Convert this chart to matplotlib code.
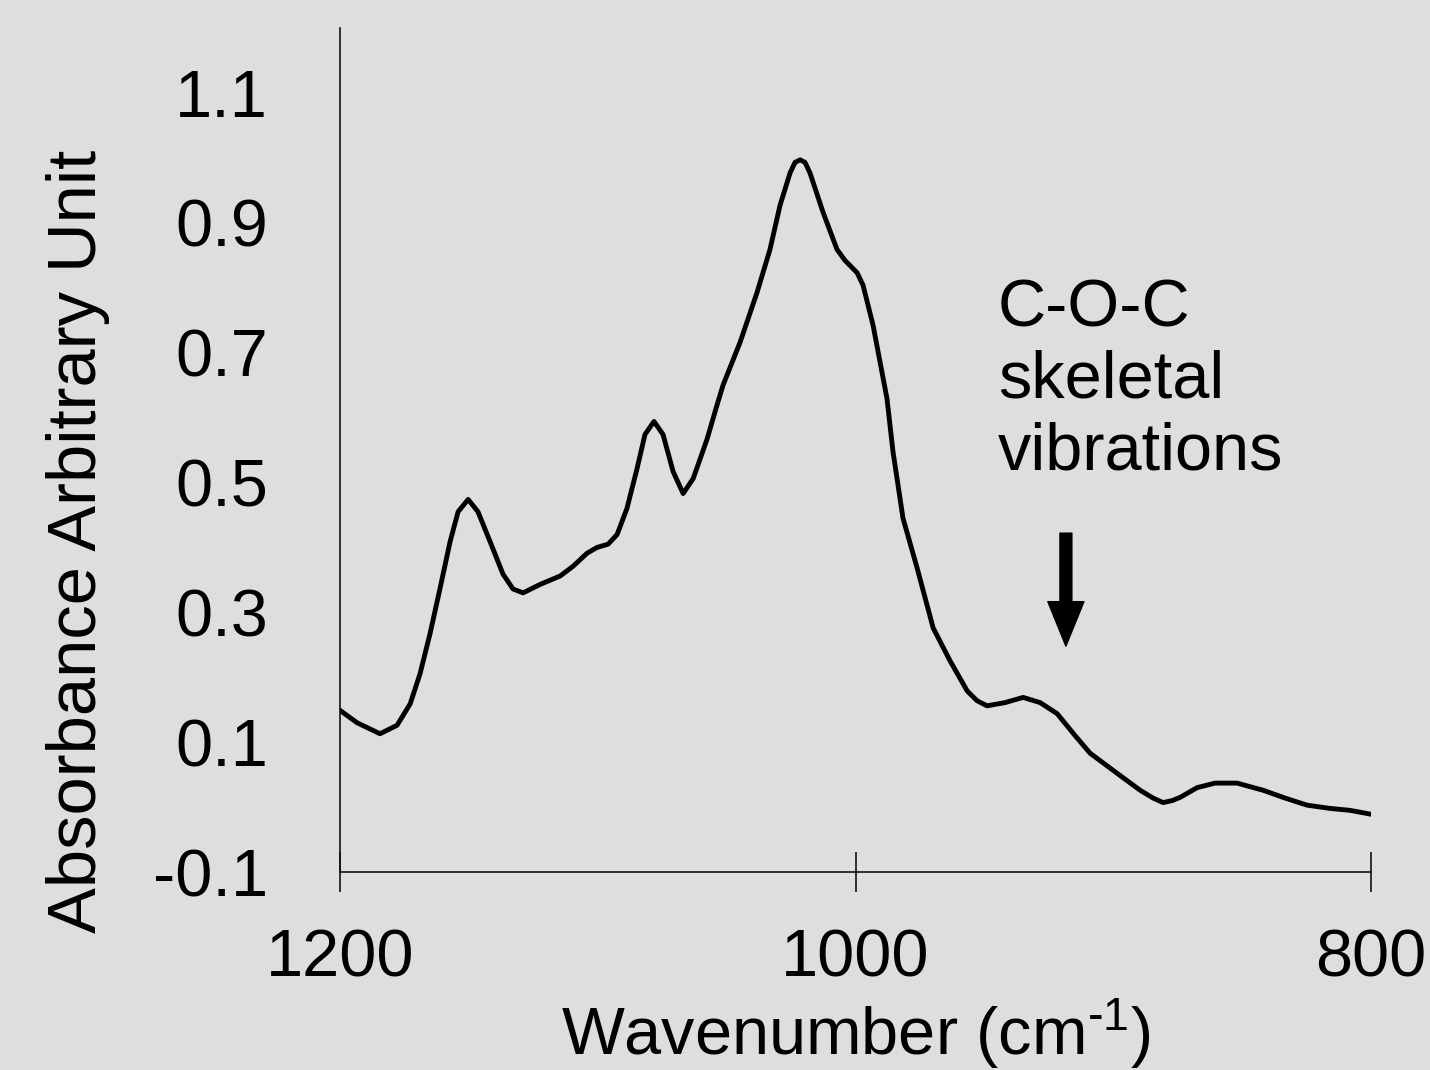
import numpy as np
import matplotlib.pyplot as plt

plt.rcParams['font.family'] = ['Liberation Sans', 'DejaVu Sans']
plt.rcParams['mathtext.fontset'] = 'custom'
plt.rcParams['mathtext.rm'] = 'Liberation Sans'
plt.rcParams['mathtext.it'] = 'Liberation Sans'

# spectrum (wavenumber, absorbance)
wavenumber = [1200.0, 1193.4, 1184.5, 1177.9, 1172.8, 1169.0, 1165.1, 1161.2, 1157.3, 1154.2,
              1150.3, 1146.5, 1141.8, 1136.8, 1132.9, 1129.0, 1122.4, 1114.6, 1109.6, 1104.2,
              1100.3, 1096.0, 1092.5, 1088.7, 1084.8, 1081.7, 1078.2, 1074.7, 1070.8, 1066.9,
              1063.0, 1057.6, 1053.7, 1051.4, 1044.8, 1038.2, 1033.2, 1029.3, 1025.4, 1023.5,
              1021.5, 1019.6, 1017.7, 1012.6, 1007.2, 1004.1, 1002.1, 999.4, 997.1, 993.2,
              987.8, 985.5, 981.6, 976.1, 969.9, 963.3, 956.7, 952.9, 949.0, 942.0,
              935.0, 928.4, 921.8, 914.8, 909.0, 898.5, 889.6, 884.6, 880.7, 877.2,
              874.1, 867.5, 860.5, 852.0, 841.9, 833.4, 824.8, 815.9, 808.1, 800.0]
absorbance = [0.149, 0.130, 0.113, 0.126, 0.159, 0.205, 0.267, 0.337, 0.409, 0.455,
              0.474, 0.455, 0.409, 0.359, 0.336, 0.330, 0.343, 0.356, 0.371, 0.391,
              0.400, 0.405, 0.420, 0.460, 0.521, 0.574, 0.594, 0.574, 0.517, 0.483,
              0.506, 0.567, 0.620, 0.650, 0.716, 0.793, 0.859, 0.927, 0.977, 0.993,
              0.997, 0.993, 0.977, 0.916, 0.859, 0.842, 0.834, 0.823, 0.804, 0.742,
              0.629, 0.548, 0.445, 0.368, 0.276, 0.225, 0.179, 0.164, 0.156, 0.161,
              0.169, 0.161, 0.144, 0.110, 0.083, 0.052, 0.026, 0.014, 0.007, 0.010,
              0.015, 0.030, 0.037, 0.037, 0.026, 0.014, 0.003, -0.002, -0.005, -0.011]

x_ticks = [1200, 1000, 800]
y_ticks = [-0.1, 0.1, 0.3, 0.5, 0.7, 0.9, 1.1]

bg = '#dedede'

fig = plt.figure(figsize=(14.3, 10.7), dpi=100, facecolor=bg)
ax = fig.add_axes([0.2378, 0.1850, 0.7210, 0.7888], facecolor=bg)

ax.plot(wavenumber, absorbance, color='black', lw=3.5,
        solid_joinstyle='round', solid_capstyle='round')

ax.set_xlim(1200, 800)
ax.set_ylim(-0.1, 1.2)
ax.set_xticks(x_ticks)
ax.set_xticklabels([str(t) for t in x_ticks])
ax.set_yticks(y_ticks)
ax.set_yticklabels([f"{t:.1f}" for t in y_ticks])

for s in ['top', 'right']:
    ax.spines[s].set_visible(False)
for s in ['left', 'bottom']:
    ax.spines[s].set_linewidth(1.2)
    ax.spines[s].set_color('#111111')

ax.tick_params(axis='x', direction='inout', length=29, width=1.2, pad=26,
               labelsize=48, color='#111111')
ax.tick_params(axis='y', length=0, pad=52, labelsize=48)

ax.set_xlabel(r'Wavenumber (cm$^{\text{-}1}$)', fontsize=48)
ax.set_ylabel('Absorbance Arbitrary Unit', fontsize=49.5)
ax.xaxis.label.set_va('baseline')
ax.xaxis.set_label_coords(0.5, -0.2168)
ax.yaxis.set_label_coords(-0.223, 0.392)

# va='baseline' lines up the last line, so y is the "vibrations" baseline
ax.text(944.7, 0.520, 'C-O-C\nskeletal\nvibrations', fontsize=48,
        ha='left', va='baseline', linespacing=1.2)

ax.annotate('', xy=(918.4, 0.248), xytext=(918.4, 0.422),
            arrowprops=dict(arrowstyle='simple,head_length=1.6,head_width=1.3,tail_width=0.43',
                            mutation_scale=20, fc='black', ec='black',
                            shrinkA=0, shrinkB=0))

fig.savefig('out.png', dpi=100, facecolor=bg)
